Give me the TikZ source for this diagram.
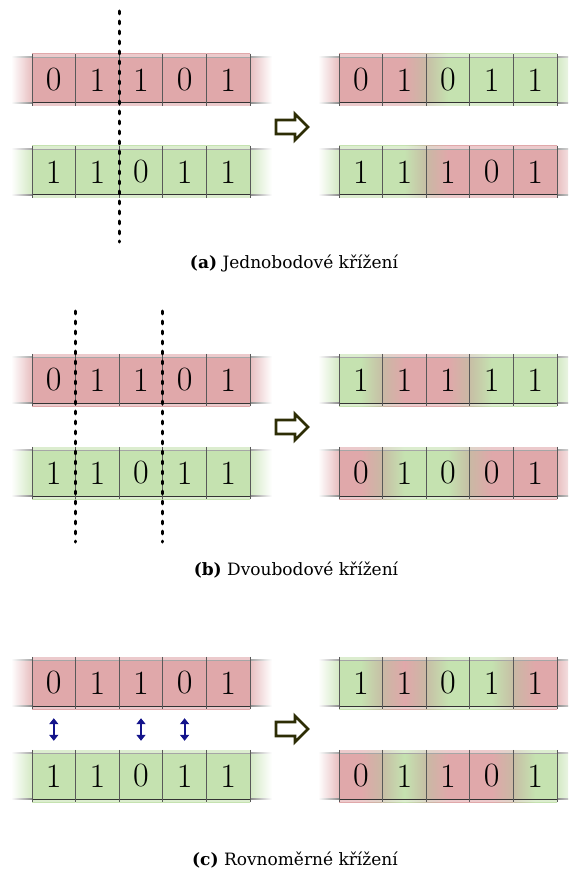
\documentclass[tikz,border=0pt]{standalone}
\usepackage{fontspec}
\newfontfamily\capfont{DejaVu Serif}
\usetikzlibrary{arrows.meta}
\definecolor{R}{RGB}{224,168,170}
\definecolor{G}{RGB}{197,226,176}
\colorlet{RG}{R!55!G!95!black}
\colorlet{GR}{G!55!R!95!black}
\definecolor{arrowc}{RGB}{45,45,5}
\definecolor{navyc}{RGB}{20,20,140}
\tikzset{
  cell/.style={minimum width=43.6pt, minimum height=52pt, inner sep=0pt, font=\fontsize{34}{34}\selectfont},
  cellline/.style={draw=black!65, line width=0.6pt},
  toplinestyle/.style={draw=black!35, line width=0.6pt},
  botlinestyle/.style={draw=black!80, line width=1pt},
  cutline/.style={line width=3pt, line cap=round, dash pattern=on 2.8pt off 7.2pt},
  hollowarr/.style={draw=arrowc, fill=white, line width=2.8pt, line join=miter},
  swaparr/.style={{Triangle[length=6pt,width=9pt]}-{Triangle[length=6pt,width=9pt]}, draw=navyc, line width=1.8pt},
  capt/.style={font=\capfont\fontsize{17}{19}\selectfont, anchor=base, inner sep=0pt}
}
% #1 name, #2 x0, #3 ytop, #4 left end colour, #5 right end colour, #6 cells i/digit/left/mid/right
\newcommand\chromo[6]{%
  \shade[left color=white, right color=#4!75] (#2-21,#3+3) rectangle (#2,#3+49);
  \shade[left color=#5!75, right color=white] (#2+218,#3+3) rectangle (#2+240,#3+49);
  \shade[left color=white, right color=black!35] (#2-21,#3+2.7) rectangle (#2,#3+3.3);
  \shade[left color=black!35, right color=white] (#2+218,#3+2.7) rectangle (#2+240,#3+3.3);
  \shade[left color=white, right color=black!45] (#2-21,#3+48.6) rectangle (#2,#3+49.4);
  \shade[left color=black!45, right color=white] (#2+218,#3+48.6) rectangle (#2+240,#3+49.4);
  \foreach \i/\d/\l/\m/\r in {#6}{%
    \shade[left color=\l, right color=\r, middle color=\m] (#2+43.6*\i-43.6,#3) rectangle (#2+43.6*\i,#3+52);
  }
  \fill[white, opacity=0.4] (#2,#3) rectangle (#2+218,#3+3);
  \fill[white, opacity=0.4] (#2,#3+49) rectangle (#2+218,#3+52);
  \draw[toplinestyle] (#2,#3+3) -- (#2+218,#3+3);
  \draw[botlinestyle] (#2,#3+49) -- (#2+218,#3+49);
  \foreach \i/\d/\l/\m/\r in {#6}{%
    \node[cell] (#1\i) at (#2+43.6*\i-21.8,#3+26) {\d};
    \draw[cellline] (#1\i.north west) -- (#1\i.south west);
  }
  \draw[cellline] (#15.north east) -- (#15.south east);
}
\newcommand\hollowarrow[1]{%
  \draw[hollowarr] ([shift={(-16,-7)}]#1) -- ++(19,0) -- ++(0,-6) -- ++(13,13) -- ++(-13,13) -- ++(0,-6) -- ++(-19,0) -- cycle;
}
\begin{document}
\begin{tikzpicture}[x=1pt,y=-1pt]
\useasboundingbox (0,0) rectangle (568,877);
\clip (0,0) rectangle (568,877);
% ---------- (a)
\chromo{aP}{32}{54}{R}{R}{1/0/R/R/R,2/1/R/R/R,3/1/R/R/R,4/0/R/R/R,5/1/R/R/R}
\chromo{aQ}{32}{146}{G}{G}{1/1/G/G/G,2/1/G/G/G,3/0/G/G/G,4/1/G/G/G,5/1/G/G/G}
\chromo{aC}{339}{54}{R}{G}{1/0/R/R/R,2/1/R/R/RG,3/0/GR/G/G,4/1/G/G/G,5/1/G/G/G}
\chromo{aD}{339}{146}{G}{R}{1/1/G/G/G,2/1/G/G/GR,3/1/RG/R/R,4/0/R/R/R,5/1/R/R/R}
\coordinate (aCutT) at (119,11);
\coordinate (aCutB) at (119,242);
\draw[cutline] (aCutT) -- (aCutB);
\coordinate (aArr) at (292,127);
\hollowarrow{aArr}
\node[capt] (capA) at (294,268) {\textbf{(a)} Jednobodové křížení};
% ---------- (b)
\chromo{bP}{32}{354}{R}{R}{1/0/R/R/R,2/1/R/R/R,3/1/R/R/R,4/0/R/R/R,5/1/R/R/R}
\chromo{bQ}{32}{447}{G}{G}{1/1/G/G/G,2/1/G/G/G,3/0/G/G/G,4/1/G/G/G,5/1/G/G/G}
\chromo{bC}{339}{354}{G}{G}{1/1/G/G/GR,2/1/RG/R/R,3/1/R/R/RG,4/1/GR/G/G,5/1/G/G/G}
\chromo{bD}{339}{447}{R}{R}{1/0/R/R/RG,2/1/GR/G/G,3/0/G/G/GR,4/0/RG/R/R,5/1/R/R/R}
\coordinate (bCut1T) at (75,311);
\coordinate (bCut1B) at (75,542);
\coordinate (bCut2T) at (162,311);
\coordinate (bCut2B) at (162,542);
\draw[cutline] (bCut1T) -- (bCut1B);
\draw[cutline] (bCut2T) -- (bCut2B);
\coordinate (bArr) at (292,427);
\hollowarrow{bArr}
\node[capt] (capB) at (296,575) {\textbf{(b)} Dvoubodové křížení};
% ---------- (c)
\chromo{cP}{32}{657}{R}{R}{1/0/R/R/R,2/1/R/R/R,3/1/R/R/R,4/0/R/R/R,5/1/R/R/R}
\chromo{cQ}{32}{750}{G}{G}{1/1/G/G/G,2/1/G/G/G,3/0/G/G/G,4/1/G/G/G,5/1/G/G/G}
\chromo{cC}{339}{657}{G}{R}{1/1/G/G/GR,2/1/RG/R/RG,3/0/GR/G/G,4/1/G/G/GR,5/1/RG/R/R}
\chromo{cD}{339}{750}{R}{G}{1/0/R/R/RG,2/1/GR/G/GR,3/1/RG/R/R,4/0/R/R/RG,5/1/GR/G/G}
\draw[swaparr, shorten <=9pt, shorten >=9pt] (cP1.south) -- (cQ1.north);
\draw[swaparr, shorten <=9pt, shorten >=9pt] (cP3.south) -- (cQ3.north);
\draw[swaparr, shorten <=9pt, shorten >=9pt] (cP4.south) -- (cQ4.north);
\coordinate (cArr) at (292,729);
\hollowarrow{cArr}
\node[capt] (capC) at (295,865) {\textbf{(c)} Rovnoměrné křížení};
\end{tikzpicture}
\end{document}
